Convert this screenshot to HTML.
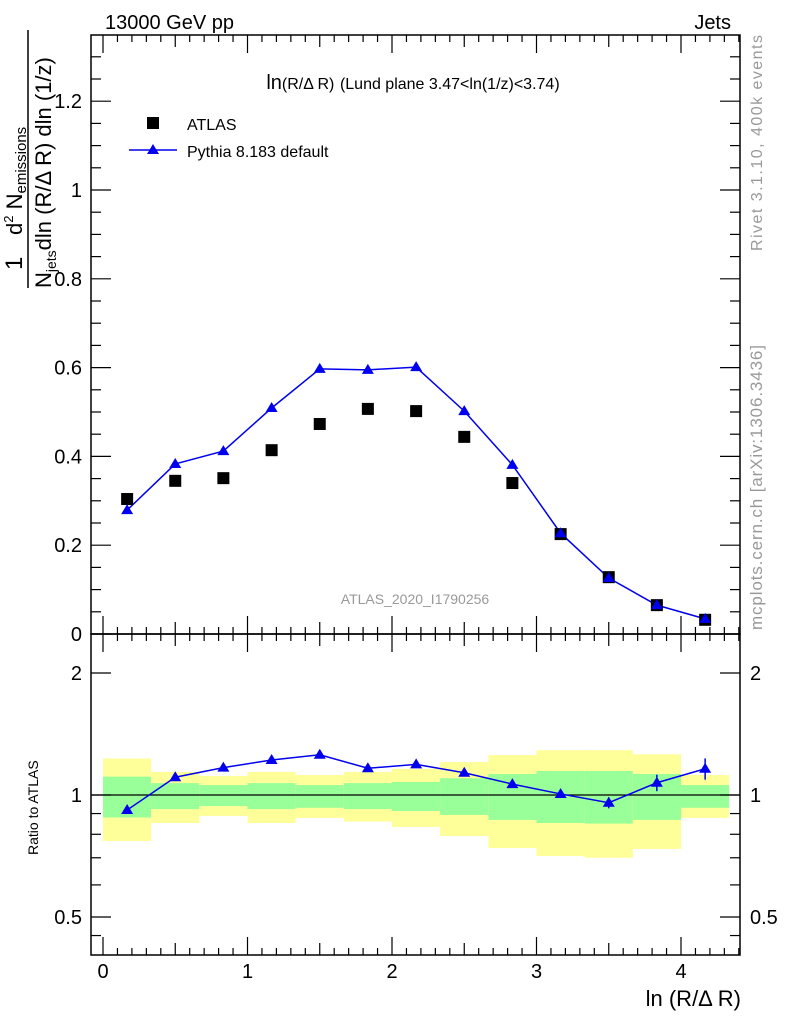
<!DOCTYPE html>
<html><head><meta charset="utf-8"><style>
body{margin:0;background:#fff}
svg{display:block;font-family:"Liberation Sans",sans-serif}
</style></head><body>
<svg id="c" width="786" height="1024" viewBox="0 0 786 1024">
<g id="bands"></g>
<g id="axes"></g>
<g id="marks"></g>
<text x="105" y="29" font-size="20">13000 GeV pp</text>
<text x="731" y="29" font-size="20" text-anchor="end">Jets</text>
<text x="413" y="89" font-size="20" text-anchor="middle">ln<tspan font-size="16">(R/Δ R)</tspan> <tspan font-size="16">(Lund plane 3.47&lt;ln(1/z)&lt;3.74)</tspan></text>
<rect x="147" y="117" width="12" height="12" fill="#000"/>
<text x="187" y="130" font-size="16">ATLAS</text>
<line x1="129" y1="150" x2="177" y2="150" stroke="#0000ee" stroke-width="1.5"/>
<polygon points="153,144 147,154 159,154" fill="#0000ee"/>
<text x="187" y="157" font-size="16">Pythia 8.183 default</text>
<text x="415" y="604" font-size="14" fill="#999" text-anchor="middle">ATLAS_2020_I1790256</text>
<text transform="translate(762,251) rotate(-90)" font-size="16" fill="#999" textLength="216">Rivet 3.1.10,  400k events</text>
<text transform="translate(762,630) rotate(-90)" font-size="17" fill="#999" textLength="285">mcplots.cern.ch [arXiv:1306.3436]</text>
<g transform="translate(0,300) rotate(-90)">
<text x="30" y="22" font-size="24">1</text>
<line x1="12" y1="28" x2="270" y2="28" stroke="#000" stroke-width="1.5"/>
<text x="65" y="22" font-size="22">d<tspan font-size="13" dy="-9">2</tspan><tspan dy="9"> N</tspan><tspan font-size="15" dy="4">emissions</tspan></text>
<text x="12" y="51" font-size="22">N<tspan font-size="14" dy="5">jets</tspan><tspan dy="-5">dln (R/Δ R) dln (1/z)</tspan></text>
</g>
<text transform="translate(38,855) rotate(-90)" font-size="14">Ratio to ATLAS</text>
<text x="741" y="1006" font-size="22" text-anchor="end">ln (R/Δ R)</text>
</svg>
<script>
const binLo=[0,0.333,0.667,1,1.333,1.667,2,2.333,2.667,3,3.333,3.667,4];
const binHi=[0.333,0.667,1,1.333,1.667,2,2.333,2.667,3,3.333,3.667,4,4.333];
const binX=[0.167,0.5,0.833,1.167,1.5,1.833,2.167,2.5,2.833,3.167,3.5,3.833,4.167];
const atlas=[0.304,0.345,0.351,0.414,0.473,0.507,0.502,0.444,0.340,0.225,0.128,0.065,0.032];
const pythia=[0.279,0.383,0.412,0.509,0.597,0.595,0.601,0.502,0.381,0.227,0.126,0.065,0.034];
const pythiaErr=[0.004,0.004,0.004,0.005,0.008,0.008,0.008,0.005,0.004,0.003,0.002,0.002,0.002];
const ratio=[0.918,1.106,1.168,1.22,1.257,1.164,1.19,1.135,1.064,1.006,0.957,1.072,1.161];
const ratioErr=[0.005,0.005,0.005,0.005,0.006,0.006,0.006,0.008,0.01,0.02,0.03,0.05,0.07];
const yelHi=[1.23,1.14,1.114,1.14,1.12,1.14,1.16,1.206,1.255,1.29,1.29,1.26,1.12];
const yelLo=[0.77,0.853,0.888,0.853,0.878,0.86,0.834,0.792,0.74,0.707,0.70,0.736,0.878];
const grnHi=[1.11,1.07,1.058,1.07,1.058,1.07,1.077,1.10,1.127,1.146,1.146,1.127,1.058];
const grnLo=[0.88,0.923,0.939,0.923,0.93,0.923,0.913,0.893,0.868,0.853,0.85,0.868,0.93];
const xTicks=[0,1,2,3,4];
const yTicks=[0,0.2,0.4,0.6,0.8,1,1.2];
const yTickLabels=["0","0.2","0.4","0.6","0.8","1","1.2"];
const rTicks=[0.5,1,2];

const NS="http://www.w3.org/2000/svg";
const X=v=>103+v*144.5;
const Y=v=>634-v*444;
const R=v=>795-Math.log2(v)*122;
const L=91,RT=740,T1=35,B1=634,B2=955;
function mk(p,tag,a){const e=document.createElementNS(NS,tag);for(const k in a)e.setAttribute(k,a[k]);p.appendChild(e);return e;}
const bands=document.getElementById('bands'),axes=document.getElementById('axes'),marks=document.getElementById('marks');
for(let i=0;i<binX.length;i++){
 let e=mk(bands,'rect',{x:X(binLo[i]),y:R(yelHi[i]),width:X(binHi[i])-X(binLo[i]),height:R(yelLo[i])-R(yelHi[i]),fill:'#ffff99'});
 
 
 e=mk(bands,'rect',{x:X(binLo[i]),y:R(grnHi[i]),width:X(binHi[i])-X(binLo[i]),height:R(grnLo[i])-R(grnHi[i]),fill:'#99ff99'});
 
 
}
mk(axes,'line',{x1:L,x2:RT,y1:R(1),y2:R(1),stroke:'#000','stroke-width':1.2});
mk(axes,'rect',{x:L,y:T1,width:RT-L,height:B1-T1,fill:'none',stroke:'#000','stroke-width':1.5});
mk(axes,'rect',{x:L,y:B1,width:RT-L,height:B2-B1,fill:'none',stroke:'#000','stroke-width':1.5});
for(let k=0;k<=44;k++){const v=k/10;const x=X(v);if(x<L||x>RT)continue;
 const len=k%10==0?18:(k%5==0?12:7);
 for(const [t,b] of [[T1,B1],[B1,B2]]){
  mk(axes,'line',{x1:x,x2:x,y1:b,y2:b-len,stroke:'#000','stroke-width':1.2});
  mk(axes,'line',{x1:x,x2:x,y1:t,y2:t+len,stroke:'#000','stroke-width':1.2});
 }}
xTicks.forEach(v=>{const t=mk(axes,'text',{x:X(v),y:978,'font-size':20,'text-anchor':'middle'});t.textContent=v;
 
 });
for(let k=0;k<=26;k++){const v=k*0.05;const y=Y(v);const len=k%4==0?20:10;
 mk(axes,'line',{x1:L,x2:L+len,y1:y,y2:y,stroke:'#000','stroke-width':1.2});
 mk(axes,'line',{x1:RT,x2:RT-len,y1:y,y2:y,stroke:'#000','stroke-width':1.2});}
yTicks.forEach((v,i)=>{const t=mk(axes,'text',{x:82,y:Y(v)+7,'font-size':20,'text-anchor':'end'});t.textContent=yTickLabels[i];
 
 });
[0.5,0.6,0.7,0.8,0.9,1,2,0.45].forEach(v=>{const y=R(v);const len=(v==0.5||v==1||v==2)?20:10;
 mk(axes,'line',{x1:L,x2:L+len,y1:y,y2:y,stroke:'#000','stroke-width':1.2});
 mk(axes,'line',{x1:RT,x2:RT-len,y1:y,y2:y,stroke:'#000','stroke-width':1.2});});
rTicks.forEach(v=>{for(const [x,a] of [[82,'end'],[750,'start']]){const t=mk(axes,'text',{x:x,y:R(v)+7,'font-size':20,'text-anchor':a});t.textContent=v;
 
 }});
let pts=binX.map((v,i)=>X(v)+','+Y(pythia[i])).join(' ');
let pl=mk(marks,'polyline',{points:pts,fill:'none',stroke:'#0000ee','stroke-width':1.5});


binX.forEach((v,i)=>{
 const r=mk(marks,'rect',{x:X(v)-6,y:Y(atlas[i])-6,width:12,height:12,fill:'#000'});
 
 
 mk(marks,'line',{x1:X(v),x2:X(v),y1:Y(pythia[i]-pythiaErr[i]),y2:Y(pythia[i]+pythiaErr[i]),stroke:'#0000ee','stroke-width':1.5});
 const x=X(v),y=Y(pythia[i]);
 const p=mk(marks,'polygon',{points:`${x},${y-6} ${x-6},${y+4} ${x+6},${y+4}`,fill:'#0000ee'});
 
 
});
pts=binX.map((v,i)=>X(v)+','+R(ratio[i])).join(' ');
pl=mk(marks,'polyline',{points:pts,fill:'none',stroke:'#0000ee','stroke-width':1.5});


binX.forEach((v,i)=>{
 const x=X(v),y=R(ratio[i]);
 mk(marks,'line',{x1:x,x2:x,y1:R(ratio[i]-ratioErr[i]),y2:R(ratio[i]+ratioErr[i]),stroke:'#0000ee','stroke-width':1.5});
 const p=mk(marks,'polygon',{points:`${x},${y-6} ${x-6},${y+4} ${x+6},${y+4}`,fill:'#0000ee'});
 
 
});
</script>
</body></html>
